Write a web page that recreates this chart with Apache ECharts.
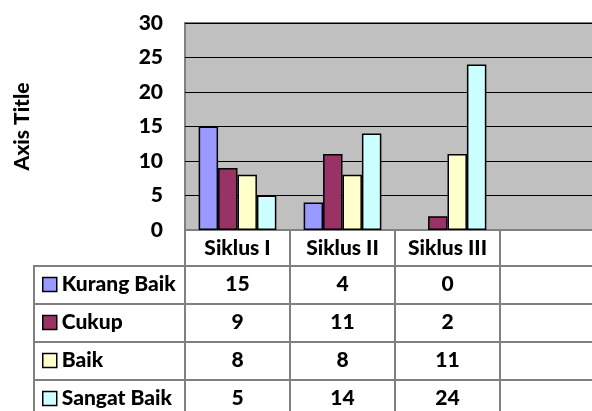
<!DOCTYPE html>
<html>
<head>
<meta charset="utf-8">
<script src="https://cdn.jsdelivr.net/npm/echarts@6/dist/echarts.min.js"></script>
<style>html,body{margin:0;padding:0;background:#fff;overflow:hidden}#c{width:612px;height:411px}</style>
</head>
<body>
<div id="c"></div>
<script>
const categories = ['Siklus I', 'Siklus II', 'Siklus III', ''];
const seriesNames = ['Kurang Baik', 'Cukup', 'Baik', 'Sangat Baik'];
const kurangBaik = [15, 4, 0];
const cukup = [9, 11, 2];
const baik = [8, 8, 11];
const sangatBaik = [5, 14, 24];
const yTicks = [0, 5, 10, 15, 20, 25, 30];
const colors = ['#9999FF', '#993366', '#FFFFCC', '#CCFFFF'];

const values = [kurangBaik, cukup, baik, sangatBaik];
const FONT = 'Lato';
const FW = 900;
const FS = 21;
const gridLeft = 185, gridTop = 23, gridW = 420, gridH = 207;
const headH = 36, rowH = 38;
const tableGray = '#808080';

const chart = echarts.init(document.getElementById('c'));

const xAxes = [{
  type: 'category', data: categories, gridIndex: 0, position: 'bottom', offset: 0,
  axisLine: {show: true, lineStyle: {color: tableGray, width: 2}},
  axisTick: {show: true, length: headH, lineStyle: {color: tableGray, width: 2}},
  axisLabel: {color: '#000', fontFamily: FONT, fontWeight: FW, fontSize: FS, lineHeight: 21, margin: 8, interval: 0}
}];
values.forEach((arr, k) => {
  xAxes.push({
    type: 'category', data: categories, gridIndex: 0, position: 'bottom',
    offset: headH + rowH * k,
    axisLine: {show: true, lineStyle: {color: tableGray, width: 2}},
    axisTick: {show: true, length: rowH, lineStyle: {color: tableGray, width: 2}},
    axisLabel: {
      color: '#000', fontFamily: FONT, fontWeight: FW, fontSize: FS, lineHeight: 21, margin: 8, interval: 0,
      formatter: (v, i) => (arr[i] === undefined ? '' : String(arr[i]))
    }
  });
});

const graphics = [];
for (let k = 0; k < 4; k++) {
  const y = gridTop + gridH + headH + rowH * k;
  graphics.push({type: 'line', shape: {x1: 34, y1: y, x2: gridLeft, y2: y}, style: {stroke: tableGray, lineWidth: 2}, silent: true});
}
graphics.push({type: 'line', shape: {x1: 34, y1: gridTop + gridH + headH - 1, x2: 34, y2: 420}, style: {stroke: tableGray, lineWidth: 2}, silent: true});

chart.setOption({
  animation: false,
  textStyle: {fontFamily: FONT},
  grid: {left: gridLeft, top: gridTop, width: gridW, height: gridH, show: true,
    backgroundColor: '#C0C0C0', borderColor: tableGray, borderWidth: 2, containLabel: false},
  legend: {
    data: seriesNames, orient: 'vertical', left: 42, top: gridTop + gridH + headH + 8,
    itemGap: rowH - 21, itemWidth: 14, itemHeight: 14, icon: 'rect',
    textStyle: {color: '#000', fontFamily: FONT, fontWeight: FW, fontSize: FS, lineHeight: 21},
    selectedMode: false, padding: 0, itemStyle: {borderColor: '#000', borderWidth: 1.5}
  },
  xAxis: xAxes,
  yAxis: {
    type: 'value', min: 0, max: 30, interval: 5,
    name: 'Axis Title', nameLocation: 'middle', nameRotate: 90, nameGap: 152,
    nameTextStyle: {color: '#000', fontFamily: FONT, fontWeight: FW, fontSize: FS},
    axisLine: {show: false}, axisTick: {show: false},
    axisLabel: {color: '#000', fontFamily: FONT, fontWeight: FW, fontSize: FS, margin: 22,
      formatter: v => (yTicks.indexOf(v) >= 0 ? String(v) : '')},
    splitLine: {show: true, lineStyle: {color: '#000', width: 1}}
  },
  series: values.map((arr, k) => ({
    name: seriesNames[k], type: 'bar', xAxisIndex: 0,
    data: arr.map(v => (v === 0 ? {value: v, itemStyle: {borderWidth: 0}} : v)),
    barGap: '0%', barCategoryGap: '26%',
    itemStyle: {color: colors[k], borderColor: '#000', borderWidth: 1.5}
  })),
  graphic: graphics
});
</script>
</body>
</html>
